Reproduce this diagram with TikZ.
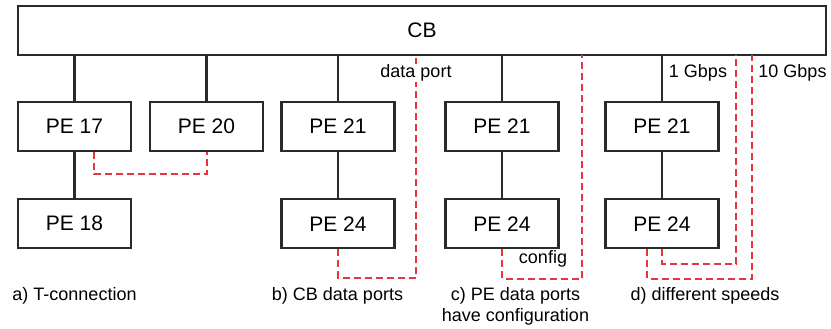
\documentclass[tikz,border=0pt]{standalone}
\usepackage{fontspec}
\setmainfont{Liberation Sans}
\usetikzlibrary{positioning}
\definecolor{pRed}{HTML}{E8343C}
\definecolor{pInk}{HTML}{2A2A2A}

\begin{document}
\begin{tikzpicture}[x=1pt, y=-1pt,
    box/.style={draw=pInk, line width=2.2pt, minimum height=49pt, inner sep=0pt,
      font=\fontsize{21}{25}\selectfont},
    pe/.style={box, minimum width=113pt},
    link/.style={pInk, line width=2.2pt},
    dport/.style={pRed, line width=2pt, dash pattern=on 7pt off 4pt},
    lbl/.style={font=\fontsize{18}{21}\selectfont, inner sep=1pt}]
    \useasboundingbox (0,0) rectangle (831,329);
    \node[box, minimum width=808pt] (cb) at (422,30.5) {CB};
    \node[pe] (pe17) at (74.5,126.5) {PE 17};
    \node[pe] (pe20) at (206.5,126.5) {PE 20};
    \node[pe] (pe21b) at (338,126.5) {PE 21};
    \node[pe] (pe21c) at (502,126.5) {PE 21};
    \node[pe] (pe21d) at (662,126.5) {PE 21};
    \node[pe, below=46pt of pe17] (pe18) {PE 18};
    \node[pe, below=46pt of pe21b] (pe24b) {PE 24};
    \node[pe, below=46pt of pe21c] (pe24c) {PE 24};
    \node[pe, below=46pt of pe21d] (pe24d) {PE 24};
    \coordinate (bport) at (416,55);
    \coordinate (cport) at (582,55);
    \coordinate (dport1) at (736,55);
    \coordinate (dport10) at (752,55);

    \foreach \n in {pe17, pe20, pe21b, pe21c, pe21d}
      \draw[link] (\n.north) -- (\n.north |- cb.south);
    \draw[link] (pe17) -- (pe18);
    \draw[link] (pe21b) -- (pe24b);
    \draw[link] (pe21c) -- (pe24c);
    \draw[link] (pe21d) -- (pe24d);

    \draw[dport] ([xshift=19.5pt]pe17.south) -- ++(0,22) -| (pe20.south);
    \draw[dport] (pe24b.south) -- ++(0,28.5) -| (bport);
    \draw[dport] (pe24c.south) -- ++(0,29.5) -| (cport);
    \draw[dport] ([xshift=-15pt]pe24d.south) -- ++(0,29.5) -| (dport10);
    \draw[dport] (pe24d.south) -- ++(0,14.5) -| (dport1);

    \node[lbl, fill=white] (dplbl) at (416,73) {data port};
    \node[lbl] (g1) at (698,73) {1 Gbps};
    \node[lbl] (g10) at (792.5,73) {10 Gbps};
    \node[lbl] (cfg) at (543,259) {config};

    \node[lbl] (capa) at (74.5,296) {a) T-connection};
    \node[lbl] (capb) at (337.5,296) {b) CB data ports};
    \node[lbl, align=center] (capc) at (515.5,306.5) {c) PE data ports\\have configuration};
    \node[lbl] (capd) at (705,296) {d) different speeds};
\end{tikzpicture}
\end{document}
